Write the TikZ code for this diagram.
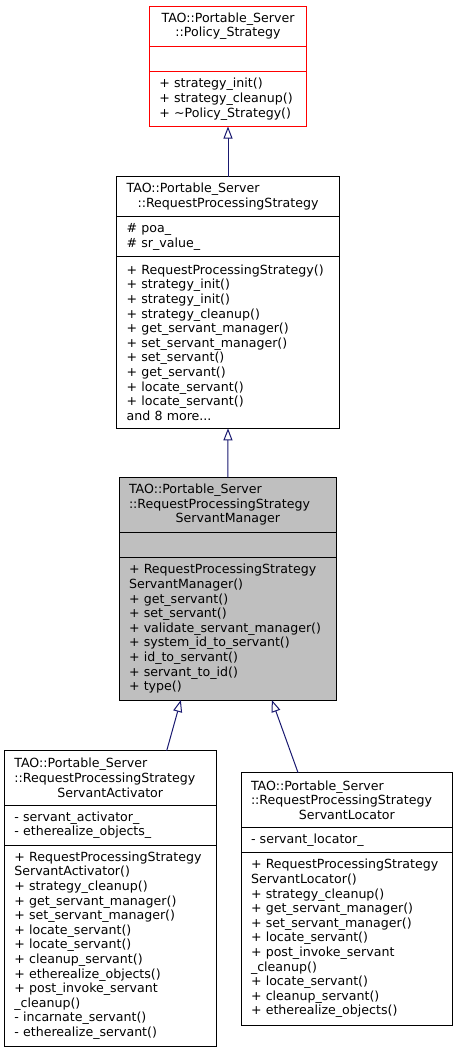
\documentclass[tikz,border=0pt]{standalone}
\usepackage{fontspec}
\setmainfont{DejaVu Sans}
\usetikzlibrary{positioning,arrows.meta}
\definecolor{edgeblue}{HTML}{191970}
\definecolor{basegray}{HTML}{BFBFBF}
\newcommand{\ctr}[1]{\hbox to\hsize{\hss#1\hss}}
\begin{document}
\begin{tikzpicture}[x=1pt, y=-1pt]
        \tikzstyle{part} = [shape=rectangle, draw, line width=1pt, outer sep=0pt, inner xsep=10pt, inner ysep=0pt,
                            align=left, font=\fontsize{12.6}{14.6}\selectfont]
        \tikzstyle{inherit} = [draw=edgeblue, line width=1pt, -{Triangle[open, length=12pt, width=9pt]}]

        \useasboundingbox (0, 0) rectangle (457, 1053);

        % Policy_Strategy
        \node[part, draw=red, text width=137.3pt, minimum width=157.3pt, minimum height=40.7pt, anchor=north]
            (pol_title) at (228, 6) {\ctr{TAO::Portable\_Server}\\\ctr{::Policy\_Strategy}};
        \node[part, draw=red, text width=137.3pt, minimum width=157.3pt, minimum height=25pt, below=0pt of pol_title]
            (pol_attr) {};
        \node[part, draw=red, text width=137.3pt, minimum width=157.3pt, minimum height=54.8pt, below=0pt of pol_attr]
            (pol_ops) {+ strategy\_init()\\+ strategy\_cleanup()\\+ \textasciitilde Policy\_Strategy()};

        % RequestProcessingStrategy
        \node[part, text width=202.7pt, minimum width=222.7pt, minimum height=40pt, anchor=north]
            (rps_title) at (228, 176.7) {TAO::Portable\_Server\\\ctr{::RequestProcessingStrategy}};
        \node[part, text width=202.7pt, minimum width=222.7pt, minimum height=40pt, below=0pt of rps_title]
            (rps_attr) {\# poa\_\\\# sr\_value\_};
        \node[part, text width=202.7pt, minimum width=222.7pt, minimum height=171.6pt, below=0pt of rps_attr]
            (rps_ops) {+ RequestProcessingStrategy()\\+ strategy\_init()\\+ strategy\_init()\\+ strategy\_cleanup()\\
                       + get\_servant\_manager()\\+ set\_servant\_manager()\\+ set\_servant()\\+ get\_servant()\\
                       + locate\_servant()\\+ locate\_servant()\\and 8 more...};

        % ServantManager
        \node[part, fill=basegray, text width=197.7pt, minimum width=217.7pt, minimum height=55pt, anchor=north]
            (sm_title) at (227.85, 477.3) {TAO::Portable\_Server\\::RequestProcessingStrategy\\\ctr{ServantManager}};
        \node[part, fill=basegray, text width=197.7pt, minimum width=217.7pt, minimum height=25.4pt, below=0pt of sm_title]
            (sm_attr) {};
        \node[part, fill=basegray, text width=197.7pt, minimum width=217.7pt, minimum height=142.3pt, below=0pt of sm_attr]
            (sm_ops) {+ RequestProcessingStrategy\\ServantManager()\\+ get\_servant()\\+ set\_servant()\\
                      + validate\_servant\_manager()\\+ system\_id\_to\_servant()\\+ id\_to\_servant()\\
                      + servant\_to\_id()\\+ type()};

        % ServantActivator
        \node[part, text width=191.7pt, minimum width=211.7pt, minimum height=54.3pt, anchor=north]
            (act_title) at (110.2, 750.7) {TAO::Portable\_Server\\::RequestProcessingStrategy\\\ctr{ServantActivator}};
        \node[part, text width=191.7pt, minimum width=211.7pt, minimum height=40.3pt, below=0pt of act_title]
            (act_attr) {- servant\_activator\_\\- etherealize\_objects\_};
        \node[part, text width=191.7pt, minimum width=211.7pt, minimum height=200.7pt, below=0pt of act_attr]
            (act_ops) {+ RequestProcessingStrategy\\ServantActivator()\\+ strategy\_cleanup()\\+ get\_servant\_manager()\\
                       + set\_servant\_manager()\\+ locate\_servant()\\+ locate\_servant()\\+ cleanup\_servant()\\
                       + etherealize\_objects()\\+ post\_invoke\_servant\\\_cleanup()\\- incarnate\_servant()\\
                       - etherealize\_servant()};

        % ServantLocator
        \node[part, text width=191.7pt, minimum width=211.7pt, minimum height=55pt, anchor=north]
            (loc_title) at (346.85, 772.7) {TAO::Portable\_Server\\::RequestProcessingStrategy\\\ctr{ServantLocator}};
        \node[part, text width=191.7pt, minimum width=211.7pt, minimum height=24.6pt, below=0pt of loc_title]
            (loc_attr) {- servant\_locator\_};
        \node[part, text width=191.7pt, minimum width=211.7pt, minimum height=172.7pt, below=0pt of loc_attr]
            (loc_ops) {+ RequestProcessingStrategy\\ServantLocator()\\+ strategy\_cleanup()\\+ get\_servant\_manager()\\
                       + set\_servant\_manager()\\+ locate\_servant()\\+ post\_invoke\_servant\\\_cleanup()\\
                       + locate\_servant()\\+ cleanup\_servant()\\+ etherealize\_objects()};

        % inheritance
        \draw[inherit] (rps_title.north) -- (pol_ops.south);
        \draw[inherit] (sm_title.north)  -- (rps_ops.south);
        \draw[inherit] ([xshift=56.5pt]act_title.north)  -- ([xshift=-47pt]sm_ops.south);
        \draw[inherit] ([xshift=-48.8pt]loc_title.north) -- ([xshift=44pt]sm_ops.south);

\end{tikzpicture}
\end{document}
